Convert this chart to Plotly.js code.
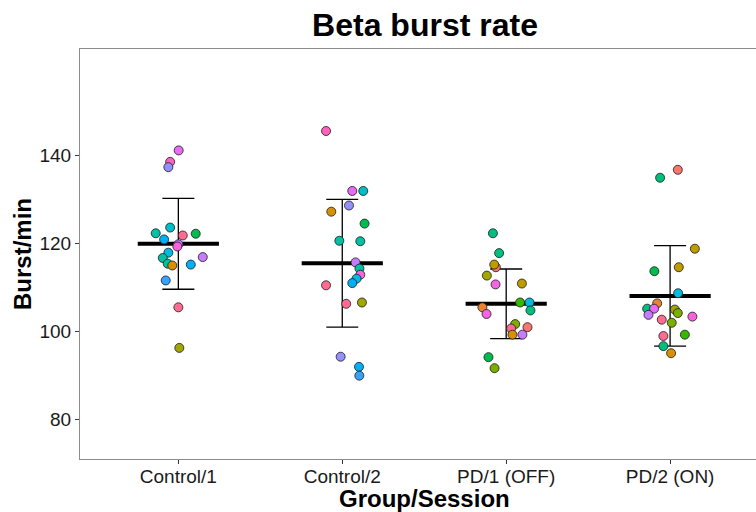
<!DOCTYPE html>
<html>
<head>
<meta charset="utf-8">
<script src="https://cdn.plot.ly/plotly-3.0.1.min.js"></script>
<style>html,body{margin:0;padding:0;background:#fff;}#chart{width:756px;height:512px;}</style>
</head>
<body>
<div id="chart"></div>
<script>
var categories = ["Control/1", "Control/2", "PD/1 (OFF)", "PD/2 (ON)"];

// Group summary (mean and SD)
var groupMeans = [119.9, 115.5, 106.3, 108.1];
var groupSD = [10.3, 14.5, 7.9, 11.4];

// Individual points: values, horizontal jitter (category units), colours
var ctrl1Values = [141.1, 138.5, 137.3, 122.3, 123.6, 121.8, 122.2, 120.9, 119.8, 119.3, 117.9, 116.7, 116.9, 115.4, 115.0, 115.2, 111.6, 105.5, 96.3];
var ctrl1Jitter = [0.002, -0.050, -0.061, -0.138, -0.050, 0.027, 0.106, -0.087, 0.000, -0.006, -0.061, -0.095, 0.149, -0.065, -0.037, 0.076, -0.077, 0.000, 0.006];
var ctrl1Colors = ["#E76BF3", "#FF62BC", "#9590FF", "#00C1A3", "#00BFC4", "#FF6C91", "#00BB4E", "#00B0F6", "#C77CFF", "#FA62DB", "#00BAE0", "#00C1A3", "#C77CFF", "#00C1A3", "#D89000", "#00B0F6", "#35A2FF", "#FF6C91", "#A3A500"];

var ctrl2Values = [145.5, 131.9, 131.9, 128.6, 127.2, 124.5, 120.6, 120.5, 115.7, 114.3, 112.9, 112.0, 111.0, 110.5, 106.3, 106.6, 94.3, 92.0, 90.0];
var ctrl2Jitter = [-0.099, 0.061, 0.128, 0.041, -0.067, 0.136, -0.018, 0.110, 0.081, 0.105, 0.110, 0.087, 0.061, -0.099, 0.024, 0.120, -0.010, 0.102, 0.104];
var ctrl2Colors = ["#FF62BC", "#E76BF3", "#00BFC4", "#9590FF", "#D89000", "#00BB4E", "#00C1A3", "#00C1A3", "#C77CFF", "#00C1A3", "#FA62DB", "#00BAE0", "#00B0F6", "#FF6C91", "#FF6C91", "#A3A500", "#9590FF", "#00B0F6", "#35A2FF"];

var pd1Values = [122.3, 117.8, 114.6, 115.2, 112.7, 110.7, 110.9, 106.6, 106.6, 105.5, 104.0, 104.8, 101.7, 101.0, 100.7, 99.3, 99.3, 94.2, 91.7];
var pd1Jitter = [-0.081, -0.043, -0.063, -0.073, -0.118, -0.065, 0.096, 0.085, 0.142, -0.145, -0.120, 0.148, 0.055, 0.130, 0.030, 0.038, 0.099, -0.108, -0.071];
var pd1Colors = ["#00BF7D", "#00BF7D", "#F8766D", "#C09B00", "#A3A500", "#F564E3", "#C09B00", "#39B600", "#00BAE0", "#EA8331", "#F564E3", "#00BF7D", "#7CAE00", "#F8766D", "#FF6C91", "#D89000", "#C77CFF", "#00BB4E", "#7CAE00"];

var pd2Values = [136.7, 134.9, 118.8, 114.6, 113.7, 108.7, 106.4, 105.2, 105.2, 103.8, 105.0, 104.2, 103.4, 102.7, 102.0, 99.0, 99.3, 96.7, 95.1];
var pd2Jitter = [0.047, -0.061, 0.151, 0.053, -0.096, 0.049, -0.079, -0.140, -0.098, -0.132, 0.029, 0.047, 0.136, -0.051, 0.010, -0.041, 0.090, -0.041, 0.006];
var pd2Colors = ["#F8766D", "#00BF7D", "#C09B00", "#C09B00", "#00BB4E", "#00BAE0", "#EA8331", "#00BF7D", "#E76BF3", "#C77CFF", "#A3A500", "#7CAE00", "#FA62DB", "#FF6C91", "#7CAE00", "#FF6C91", "#39B600", "#00BF7D", "#D89000"];

var yTicks = [80, 100, 120, 140];

var groups = [
  {v: ctrl1Values, j: ctrl1Jitter, c: ctrl1Colors},
  {v: ctrl2Values, j: ctrl2Jitter, c: ctrl2Colors},
  {v: pd1Values, j: pd1Jitter, c: pd1Colors},
  {v: pd2Values, j: pd2Jitter, c: pd2Colors}
];

var FONT = "Liberation Sans, Arial, Helvetica, sans-serif";
var catIdx = categories.map(function (_, i) { return i; });

var traces = [];
// error bars
traces.push({
  type: "scatter", mode: "markers", x: catIdx, y: groupMeans,
  marker: {size: 1, color: "rgba(0,0,0,0)"},
  error_y: {type: "data", array: groupSD, visible: true, color: "#000", thickness: 1.3, width: 16},
  hoverinfo: "skip", showlegend: false
});
// mean lines
traces.push({
  type: "scatter", mode: "markers", x: catIdx, y: groupMeans,
  marker: {symbol: "line-ew-open", size: 58, color: "#000", line: {width: 4, color: "#000"}},
  hoverinfo: "skip", showlegend: false
});
// points
groups.forEach(function (g, gi) {
  traces.push({
    type: "scatter", mode: "markers",
    x: g.j.map(function (d) { return gi + d; }),
    y: g.v,
    marker: {size: 9, color: g.c, line: {width: 0.8, color: "#1a1a1a"}},
    showlegend: false
  });
});

var layout = {
  width: 756, height: 512,
  margin: {l: 80, r: 0, t: 49, b: 53, pad: 0},
  paper_bgcolor: "#fff", plot_bgcolor: "#fff",
  showlegend: false,
  title: {text: "<b>Beta burst rate</b>", font: {family: FONT, size: 32, color: "#000"},
          xref: "container", x: 425 / 756, xanchor: "center", yref: "container", y: 1 - 25 / 512, yanchor: "middle"},
  xaxis: {
    range: [-0.6, 3.524], tickmode: "array", tickvals: catIdx, ticktext: categories,
    showgrid: false, zeroline: false, showline: true, linecolor: "#8c8c8c", linewidth: 1, mirror: true,
    ticks: "outside", ticklen: 4, tickcolor: "#333", tickwidth: 1, ticklabelstandoff: -4,
    tickfont: {family: FONT, size: 19, color: "#1a1a1a"}
  },
  yaxis: {
    range: [71.1, 164.1], tickmode: "array", tickvals: yTicks,
    showgrid: false, zeroline: false, showline: true, linecolor: "#8c8c8c", linewidth: 1,
    ticks: "outside", ticklen: 4, tickcolor: "#333", tickwidth: 1,
    tickfont: {family: FONT, size: 19, color: "#1a1a1a"}
  },
  annotations: [
    {text: "<b>Group/Session</b>", xref: "paper", yref: "paper", x: (424 - 80) / 676, y: (458 - 497) / 409,
     xanchor: "center", yanchor: "middle", showarrow: false, font: {family: FONT, size: 24, color: "#000"}},
    {text: "<b>Burst/min</b>", xref: "paper", yref: "paper", x: (22 - 80) / 676, y: 0.5, textangle: -90,
     xanchor: "center", yanchor: "middle", showarrow: false, font: {family: FONT, size: 24, color: "#000"}}
  ]
};

Plotly.newPlot("chart", traces, layout, {staticPlot: true, displayModeBar: false});
</script>
</body>
</html>
